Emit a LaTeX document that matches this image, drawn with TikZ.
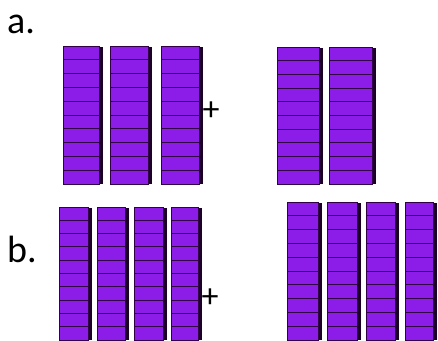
\documentclass[tikz,border=0pt]{standalone}
\usepackage{fontspec}
\setmainfont{Carlito}
\definecolor{rodpurple}{RGB}{140,28,232}
\definecolor{roddark}{RGB}{28,0,40}
\definecolor{rodline}{RGB}{50,0,70}
\newcommand\drawrod[4]{% x0 x1 top bottom
  \fill[roddark] (#2-5,#3+1) rectangle (#2,#4);
  \fill[rodpurple] (#1,#3) rectangle (#2-4,#4);
  \foreach \k in {1,...,9} {\draw[rodline,line width=1pt] (#1,{#3+\k*(#4-#3)/10}) -- (#2-4,{#3+\k*(#4-#3)/10});}
  \draw[rodline,line width=0.8pt] (#1,#3) rectangle (#2-4,#4);
}
\tikzset{lbl/.style={anchor=base west,font=\fontsize{38}{40}\selectfont,inner sep=0pt},
  plus/.style={font=\fontsize{34}{34}\selectfont,inner sep=0pt}}
\begin{document}
\begin{tikzpicture}[x=1pt,y=-1pt]
\useasboundingbox (0,0) rectangle (438,340);
\begin{scope}
\clip (0,0) rectangle (438,340);
% row a
\drawrod{63}{103}{46}{184}
\drawrod{110}{152}{46}{184}
\drawrod{161}{203}{46}{184}
\drawrod{277}{323}{47}{184}
\drawrod{329}{376}{47}{184}
% row b
\drawrod{59}{92}{207}{340}
\drawrod{97}{129}{207}{340}
\drawrod{134}{167}{207}{340}
\drawrod{171}{202}{207}{340}
\drawrod{287}{322}{202}{340}
\drawrod{327}{361}{202}{340}
\drawrod{366}{399}{202}{340}
\drawrod{405}{437}{202}{340}
\end{scope}
\node[lbl] (la) at (7,33) {a.};
\node[lbl] (lb) at (7,262) {b.};
\node[plus] (pa) at (211,111) {+};
\node[plus] (pb) at (210,298) {+};
\end{tikzpicture}
\end{document}
